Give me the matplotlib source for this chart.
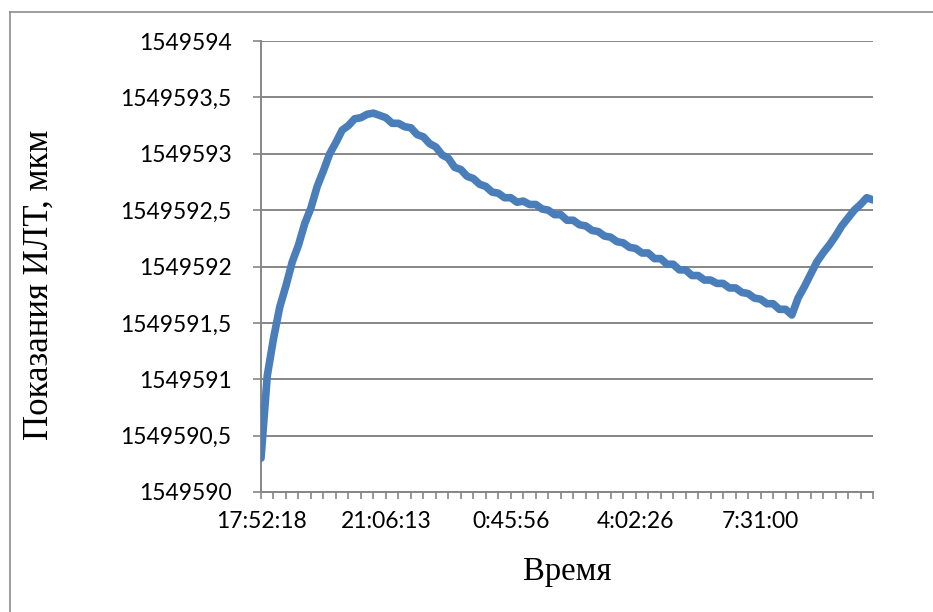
import matplotlib
matplotlib.use("Agg")
import matplotlib.pyplot as plt
from matplotlib.ticker import FuncFormatter, FixedLocator
from matplotlib.lines import Line2D
import numpy as np

# Category labels shown on the x axis (every 10th tick)
time_labels = ["17:52:18", "21:06:13", "0:45:56", "4:02:26", "7:31:00"]
n_ticks = 49  # number of tick intervals on the category axis
label_every = 10

# ILT readings, micrometres
values = [
    1549590.30, 1549591.03, 1549591.36, 1549591.64, 1549591.83, 1549592.04, 1549592.19, 1549592.38,
    1549592.52, 1549592.71, 1549592.85, 1549593.00, 1549593.10, 1549593.21, 1549593.25, 1549593.31,
    1549593.32, 1549593.35, 1549593.36, 1549593.34, 1549593.32, 1549593.27, 1549593.27, 1549593.24,
    1549593.23, 1549593.17, 1549593.15, 1549593.09, 1549593.06, 1549592.99, 1549592.96, 1549592.88,
    1549592.86, 1549592.80, 1549592.78, 1549592.73, 1549592.71, 1549592.66, 1549592.65, 1549592.61,
    1549592.61, 1549592.57, 1549592.58, 1549592.55, 1549592.55, 1549592.51, 1549592.50, 1549592.46,
    1549592.46, 1549592.41, 1549592.41, 1549592.37, 1549592.36, 1549592.32, 1549592.31, 1549592.27,
    1549592.26, 1549592.22, 1549592.21, 1549592.17, 1549592.16, 1549592.12, 1549592.12, 1549592.07,
    1549592.07, 1549592.02, 1549592.02, 1549591.97, 1549591.97, 1549591.92, 1549591.92, 1549591.88,
    1549591.88, 1549591.85, 1549591.85, 1549591.81, 1549591.81, 1549591.77, 1549591.76, 1549591.72,
    1549591.71, 1549591.67, 1549591.67, 1549591.62, 1549591.62, 1549591.57, 1549591.72, 1549591.82,
    1549591.93, 1549592.04, 1549592.12, 1549592.19, 1549592.27, 1549592.36, 1549592.43, 1549592.50,
    1549592.55, 1549592.61, 1549592.59,
]

line_color = "#4a7ebb"
grid_color = "#868686"

fig = plt.figure(figsize=(9.33, 6.12), dpi=100)
ax = fig.add_axes([261 / 933, 1 - 492 / 612, (873 - 261) / 933, (492 - 41) / 612])

x = np.linspace(0, n_ticks, len(values))
ax.plot(x, values, color=line_color, linewidth=5.5, solid_capstyle="round",
        solid_joinstyle="round", zorder=3)

ax.set_xlim(0, n_ticks)
ax.set_ylim(1549590, 1549594)
ax.yaxis.set_major_locator(FixedLocator(np.arange(1549590, 1549594.01, 0.5)))

def yfmt(v, pos):
    if abs(v - round(v)) < 1e-6:
        return f"{int(round(v))}"
    return f"{v:.1f}".replace(".", ",")

ax.yaxis.set_major_formatter(FuncFormatter(yfmt))

tick_pos = np.arange(0, n_ticks + 1, 1)
tick_labels = []
for i in tick_pos:
    k = i // label_every
    if i % label_every == 0 and k < len(time_labels):
        tick_labels.append(time_labels[k])
    else:
        tick_labels.append("")
ax.set_xticks(tick_pos)
ax.set_xticklabels(tick_labels)

ax.grid(axis="y", color=grid_color, linewidth=1.4, zorder=0)
for side in ["top", "right"]:
    ax.spines[side].set_visible(False)
for side in ["left", "bottom"]:
    ax.spines[side].set_color(grid_color)
    ax.spines[side].set_linewidth(1.4)

ax.tick_params(axis="x", direction="out", length=5, width=1.2, color=grid_color, pad=9, labelsize=16.5)
ax.tick_params(axis="y", direction="out", length=5.8, width=1.2, color=grid_color, pad=15.5, labelsize=16.5)
for lab in ax.get_xticklabels() + ax.get_yticklabels():
    lab.set_fontfamily("Lato")
    lab.set_color("#000000")

ax.set_ylabel("Показания ИЛТ, мкм", family="Liberation Serif", fontsize=25)
ax.yaxis.set_label_coords(-0.335, 0.459)
ax.set_xlabel("Время", family="Liberation Serif", fontsize=23.5)
ax.xaxis.set_label_coords(0.5, -0.142)

# chart-area border (only top and left edges fall inside the picture)
fig.add_artist(Line2D([9.5 / 933, 9.5 / 933], [0, 1 - 12 / 612], transform=fig.transFigure,
                      color="#8c8c8c", linewidth=1.2))
fig.add_artist(Line2D([9.5 / 933, 1], [1 - 12 / 612, 1 - 12 / 612], transform=fig.transFigure,
                      color="#8c8c8c", linewidth=1.2))

fig.savefig("out.png", dpi=100)
